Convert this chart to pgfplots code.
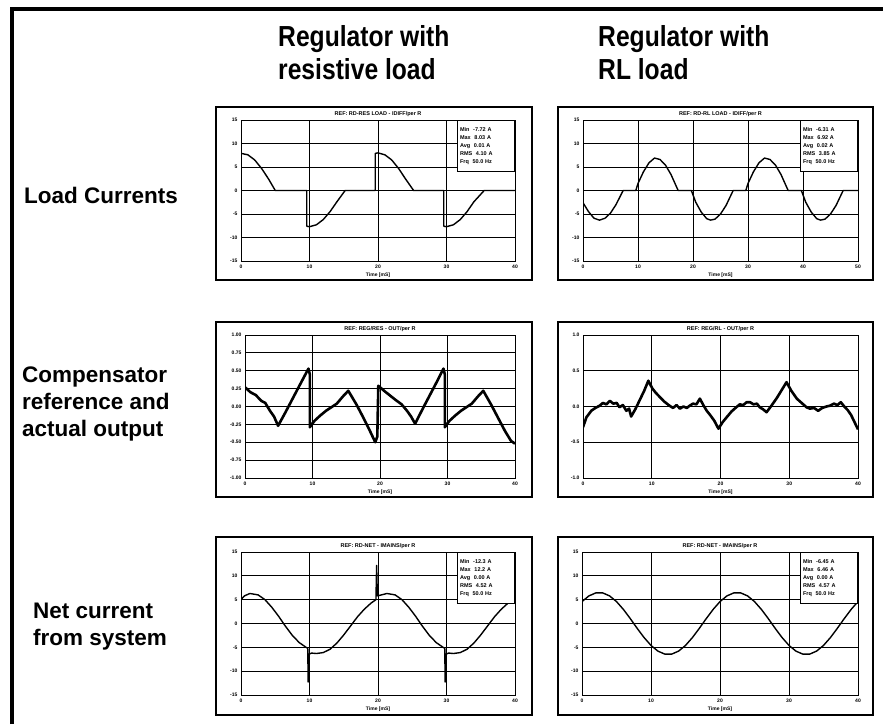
\documentclass[border=0pt]{standalone}
\usepackage{fontspec}
\setmainfont{Liberation Sans}
\newfontfamily\hdrfont[FakeStretch=0.85]{Liberation Sans}
\usepackage{pgfplots}
\pgfplotsset{compat=1.18}
\pgfplotsset{
 panel/.style={
  scale only axis, anchor=south west,
  xmin=0, ymin=-15, ymax=15, ytick={-15,-10,...,15},
  grid=major, major grid style={black, line width=0.9pt},
  axis line style={black, line width=0.9pt},
  major tick length=0pt,
  tick label style={font=\fontsize{5}{5}\selectfont\bfseries},
  /pgf/number format/assume math mode=true,
  xlabel={Time [mS]},
  xlabel style={font=\fontsize{5}{5}\selectfont\bfseries, at={(axis description cs:0.5,0)}, anchor=north, yshift=-12pt, inner sep=0pt},
  every axis title shift=0pt,
  title style={font=\fontsize{5.5}{6}\selectfont\bfseries, at={(axis description cs:0.5,1)}, anchor=south, yshift=3pt, inner sep=0pt},
 }
}
\tikzset{legbox/.style={draw=black, line width=0.8pt, fill=white, anchor=north east, inner sep=2pt, font=\fontsize{5.5}{8}\selectfont\bfseries, align=left, minimum width=57pt, minimum height=51pt, text width=52pt},
 crv/.style={black, line width=1.4pt, mark=none, line join=round},
 thk/.style={black, line width=2.6pt, mark=none, line join=round}}
\begin{document}
\begin{tikzpicture}[x=1pt,y=1pt]
\useasboundingbox (0,0) rectangle (883,724);
\fill[white] (0,0) rectangle (883,724);
\draw[line width=3.5pt] (12,0) -- (12,715) -- (883,715);

% headers
\node[anchor=base west, inner sep=0pt, font=\hdrfont\bfseries\fontsize{29}{33}\selectfont] at (278,677) {Regulator with};
\node[anchor=base west, inner sep=0pt, font=\hdrfont\bfseries\fontsize{29}{33}\selectfont] at (278,644) {resistive load};
\node[anchor=base west, inner sep=0pt, font=\hdrfont\bfseries\fontsize{29}{33}\selectfont] at (598,677) {Regulator with};
\node[anchor=base west, inner sep=0pt, font=\hdrfont\bfseries\fontsize{29}{33}\selectfont] at (598,644) {RL load};

% row labels
\tikzset{rowlab/.style={anchor=base west, inner sep=0pt, font=\bfseries\fontsize{22.5}{27}\selectfont}}
\node[rowlab] at (24,520) {Load Currents};
\node[rowlab] at (22,342) {Compensator};
\node[rowlab] at (22,315) {reference and};
\node[rowlab] at (22,288) {actual output};
\node[rowlab] at (33,106) {Net current};
\node[rowlab] at (33,79) {from system};

% outer frames
\draw[line width=1.3pt] (216,444) rectangle (532,617);
\draw[line width=1.3pt] (558,444) rectangle (873,617);
\draw[line width=1.3pt] (216,227) rectangle (532,402);
\draw[line width=1.3pt] (558,227) rectangle (873,402);
\draw[line width=1.3pt] (216,9) rectangle (532,187);
\draw[line width=1.3pt] (558,9) rectangle (873,187);

% Panel 1
\begin{axis}[panel, at={(241pt,463pt)}, width=274pt, height=141pt, xmax=40, xtick={0,10,...,40},
  title={REF: RD-RES LOAD - IDIFF/per R}]
\addplot[crv] coordinates {(0,7.9)(1,7.6)(2,6.5)(3,4.7)(4,2.5)(5,0)(9.6,0)(9.6,-7.6)(10,-7.7)(11,-7.3)(12,-6.2)(13,-4.5)(14,-2.4)(15.2,0)(19.6,0)(19.6,7.9)(20,8)(21,7.6)(22,6.5)(23,4.7)(24,2.5)(25.2,0)(29.6,0)(29.6,-7.6)(30,-7.7)(31,-7.3)(32,-6.2)(33,-4.5)(34,-2.4)(35.5,0)(40,0)};
\node[legbox] at (rel axis cs:1,1) {Min\ \ -7.72 A\\Max\ \ 8.03 A\\Avg\ \ 0.01 A\\RMS\ \ 4.10 A\\Frq\ \ 50.0 Hz};
\end{axis}

% Panel 2
\begin{axis}[panel, at={(583pt,463pt)}, width=275pt, height=141pt, xmax=50, xtick={0,10,...,50},
  title={REF: RD-RL LOAD - IDIFF/per R}]
\addplot[crv] coordinates {(0,-2.6)(1,-4.5)(2,-5.9)(3,-6.3)(4,-5.9)(5,-4.8)(6,-3.0)(7.3,0)(9.6,0)(10,1.5)(11,4.0)(12,5.9)(13,6.9)(14,6.6)(15,5.4)(16,3.4)(17.3,0)(19.7,0)(20.5,-2.5)(21.5,-4.6)(22.5,-6.0)(23.2,-6.3)(24,-6.1)(25,-5.0)(26,-3.2)(27.3,0)(29.6,0)(30,1.5)(31,4.0)(32,5.9)(33,6.9)(34,6.6)(35,5.4)(36,3.4)(37.3,0)(39.7,0)(40.5,-2.5)(41.5,-4.6)(42.5,-6.0)(43.2,-6.3)(44,-6.1)(45,-5.0)(46,-3.2)(47.3,0)(50,0)};
\node[legbox] at (rel axis cs:1,1) {Min\ \ -6.31 A\\Max\ \ 6.92 A\\Avg\ \ 0.02 A\\RMS\ \ 3.85 A\\Frq\ \ 50.0 Hz};
\end{axis}

% Panel 3
\begin{axis}[panel, at={(245pt,246pt)}, width=270pt, height=143pt, xmax=40, xtick={0,10,...,40},
  ymin=-1, ymax=1, ytick={-1,-0.75,...,1}, yticklabel style={/pgf/number format/.cd, fixed, fixed zerofill, precision=2},
  title={REF: REG/RES - OUT/per R}]
\addplot[thk] coordinates {(0,0.27)(0.8,0.2)(1.6,0.16)(2.4,0.08)(3.0,0.05)(3.7,-0.06)(4.3,-0.14)(4.9,-0.27)(6,-0.08)(7,0.1)(8,0.28)(9.4,0.53)(9.6,0.45)(9.6,-0.29)(10.3,-0.2)(11.1,-0.13)(12,-0.06)(12.8,-0.01)(13.6,0.04)(14.5,0.14)(15.3,0.22)(16.5,0.03)(17.5,-0.15)(18.5,-0.34)(19.3,-0.5)(19.6,-0.42)(19.75,0.29)(20.6,0.22)(21.4,0.16)(22.2,0.1)(23.2,0.03)(24.0,-0.06)(24.6,-0.14)(25.2,-0.24)(26.5,0.0)(27.5,0.18)(28.5,0.36)(29.4,0.53)(29.6,0.45)(29.6,-0.29)(30.3,-0.2)(31.1,-0.13)(32,-0.06)(32.8,-0.01)(33.6,0.04)(34.5,0.14)(35.3,0.22)(36.5,0.02)(37.5,-0.16)(38.5,-0.34)(39.4,-0.48)(40,-0.52)};
\end{axis}

% Panel 4
\begin{axis}[panel, at={(583pt,246pt)}, width=275pt, height=143pt, xmax=40, xtick={0,10,...,40},
  ymin=-1, ymax=1, ytick={-1,-0.5,...,1}, yticklabel style={/pgf/number format/.cd, fixed, fixed zerofill, precision=1},
  title={REF: REG/RL - OUT/per R}]
\addplot[thk] coordinates {(0,-0.29)(0.5,-0.15)(0.9,-0.1)(1.2,-0.06)(1.8,-0.02)(2.4,0.01)(2.9,0.05)(3.4,0.03)(3.9,0.08)(4.4,0.04)(4.9,0.05)(5.3,-0.01)(5.8,0.02)(6.3,-0.06)(6.7,-0.03)(7.0,-0.14)(7.6,-0.04)(8.3,0.1)(8.9,0.22)(9.5,0.36)(10.1,0.25)(10.6,0.19)(11.2,0.13)(11.8,0.07)(12.2,0.04)(12.6,0.01)(13.1,-0.02)(13.6,0.02)(14.1,-0.03)(14.6,0.0)(15.1,-0.02)(15.5,0.01)(16.0,0.04)(16.5,0.03)(17.0,0.11)(17.5,0.02)(18.0,-0.06)(18.5,-0.12)(19.1,-0.2)(19.7,-0.31)(20.3,-0.22)(20.9,-0.15)(21.6,-0.07)(22.3,-0.01)(22.8,0.03)(23.3,0.02)(23.8,0.06)(24.3,0.06)(24.8,0.03)(25.3,0.04)(25.7,-0.01)(26.2,-0.04)(26.7,-0.08)(27.4,0.01)(28.2,0.12)(28.9,0.23)(29.6,0.34)(30.3,0.22)(31.1,0.11)(31.8,0.05)(32.5,-0.01)(33.0,-0.03)(33.6,-0.02)(34.2,-0.06)(34.8,-0.02)(35.4,0.0)(35.9,0.01)(36.5,0.04)(37.0,0.02)(37.5,0.06)(38.0,0.0)(38.5,-0.05)(39.0,-0.12)(39.4,-0.2)(40,-0.32)};
\end{axis}

% Panel 5
\begin{axis}[panel, at={(241pt,29pt)}, width=274pt, height=143pt, xmax=40, xtick={0,10,...,40},
  title={REF: RD-NET - IMAINS/per R}]
\addplot[crv] coordinates {(0,5.0)(0.5,5.8)(1.3,6.3)(2.5,6.0)(3.5,5.0)(4.5,3.4)(5.5,1.5)(6.5,-0.6)(7.5,-2.5)(8.5,-4.0)(9.5,-5.0)(9.75,-5.2)(9.8,-12.3)(9.85,-6.5)(10.3,-6.2)(11,-6.3)(12,-6.1)(13,-5.4)(14,-4.1)(15,-2.4)(16,-0.5)(17,1.4)(18,3.0)(19,4.3)(19.7,5.0)(19.8,12.2)(19.9,5.8)(20.5,6.0)(21.3,6.3)(22.5,6.0)(23.5,5.0)(24.5,3.4)(25.5,1.5)(26.5,-0.6)(27.5,-2.5)(28.5,-4.0)(29.5,-5.0)(29.75,-5.2)(29.8,-12.3)(29.85,-6.5)(30.3,-6.2)(31,-6.3)(32,-6.1)(33,-5.4)(34,-4.1)(35,-2.4)(36,-0.5)(37,1.4)(38,3.0)(39,4.3)(39.6,5.0)(40,5.0)};
\node[legbox] at (rel axis cs:1,1) {Min\ \ -12.3 A\\Max\ \ 12.2 A\\Avg\ \ 0.00 A\\RMS\ \ 4.52 A\\Frq\ \ 50.0 Hz};
\end{axis}

% Panel 6
\begin{axis}[panel, at={(582pt,29pt)}, width=276pt, height=143pt, xmax=40, xtick={0,10,...,40},
  title={REF: RD-NET - IMAINS/per R}]
\addplot[crv] coordinates {(0,4.60)(1,5.79)(2,6.42)(3,6.42)(4,5.79)(5,4.60)(6,2.95)(7,1.02)(8,-1.02)(9,-2.95)(10,-4.60)(11,-5.79)(12,-6.42)(13,-6.42)(14,-5.79)(15,-4.60)(16,-2.95)(17,-1.02)(18,1.02)(19,2.95)(20,4.60)(21,5.79)(22,6.42)(23,6.42)(24,5.79)(25,4.60)(26,2.95)(27,1.02)(28,-1.02)(29,-2.95)(30,-4.60)(31,-5.79)(32,-6.42)(33,-6.42)(34,-5.79)(35,-4.60)(36,-2.95)(37,-1.02)(38,1.02)(39,2.95)(40,4.60)};
\node[legbox] at (rel axis cs:1,1) {Min\ \ -6.45 A\\Max\ \ 6.46 A\\Avg\ \ 0.00 A\\RMS\ \ 4.57 A\\Frq\ \ 50.0 Hz};
\end{axis}
\end{tikzpicture}
\end{document}
